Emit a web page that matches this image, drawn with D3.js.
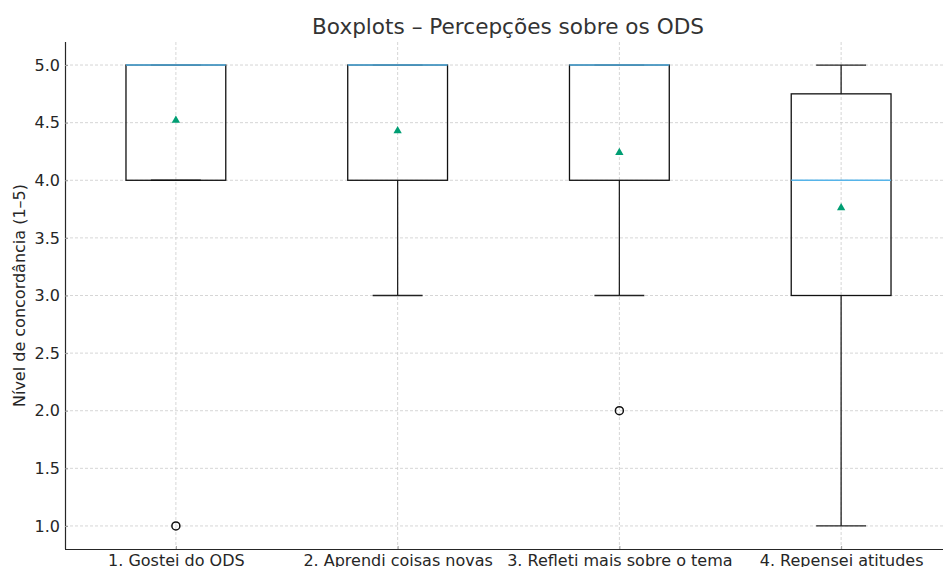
<!DOCTYPE html>
<html lang="pt">
<head>
<meta charset="UTF-8" />
<title>Boxplots – Percepções sobre os ODS</title>
<script src="https://d3js.org/d3.v7.min.js"></script>
<style>
  body { margin: 0; background: #fff; font-family: "DejaVu Sans", sans-serif; }
  svg { display: block; }
  .grid line { stroke: #cccccc; stroke-dasharray: 3,2; stroke-width: 0.8px; }
  .axis text { font-size: 16px; fill: #262626; font-family: "DejaVu Sans", sans-serif; }
  .axis path { stroke: #262626; stroke-width: 1.2px; }
  .axis line { stroke: #999; }
</style>
</head>
<body>
<svg width="943" height="567"></svg>
<script>
// dados
const categories = ["1. Gostei do ODS", "2. Aprendi coisas novas", "3. Refleti mais sobre o tema", "4. Repensei atitudes"];
const q1s      = [4, 4, 4, 3];
const medians  = [5, 5, 5, 4];
const q3s      = [5, 5, 5, 4.75];
const whiskLo  = [4, 3, 3, 1];
const whiskHi  = [5, 5, 5, 5];
const means    = [4.52, 4.43, 4.24, 3.76];
const outliers = [[1], [], [2], []];
const yTicks   = [1.0, 1.5, 2.0, 2.5, 3.0, 3.5, 4.0, 4.5, 5.0];

const svg = d3.select("svg");
const mLeft = 65, mRight = 952, mTop = 42, mBottom = 549;

const x = d3.scaleLinear().domain([0.5, 4.5]).range([mLeft, mRight]);
const y = d3.scaleLinear().domain([0.8, 5.2]).range([mBottom, mTop]);
const boxW = x(0.45) - x(0);
const capW = boxW / 2;

// grade
const grid = svg.append("g").attr("class", "grid");
grid.selectAll(".gy").data(yTicks).join("line")
  .attr("x1", mLeft).attr("x2", mRight)
  .attr("y1", d => y(d)).attr("y2", d => y(d));
grid.selectAll(".gx").data(categories).join("line")
  .attr("x1", (d, i) => x(i + 1)).attr("x2", (d, i) => x(i + 1))
  .attr("y1", mTop).attr("y2", mBottom);

// eixos
const yAxis = svg.append("g").attr("class", "axis")
  .attr("transform", `translate(${mLeft},0)`)
  .call(d3.axisLeft(y).tickValues(yTicks).tickFormat(d3.format(".1f")).tickSize(-3).tickPadding(5));
yAxis.select(".domain").attr("d", `M0.5,${mTop}V${mBottom}`);

const xAxis = svg.append("g").attr("class", "axis")
  .attr("transform", `translate(0,${mBottom})`)
  .call(d3.axisBottom(x).tickValues([1, 2, 3, 4]).tickFormat(d => categories[d - 1]).tickSize(-3).tickPadding(6));
xAxis.select(".domain").attr("d", `M${mLeft},0.5H${mRight}`);

// caixas
const data = categories.map((c, i) => ({
  i: i + 1, q1: q1s[i], med: medians[i], q3: q3s[i],
  lo: whiskLo[i], hi: whiskHi[i], mean: means[i], out: outliers[i]
}));

const g = svg.append("g").selectAll("g").data(data).join("g");

// bigodes
g.append("line")
  .attr("x1", d => x(d.i)).attr("x2", d => x(d.i))
  .attr("y1", d => y(d.q1)).attr("y2", d => y(d.lo))
  .attr("stroke", "#222").attr("stroke-width", 1.3);
g.append("line")
  .attr("x1", d => x(d.i)).attr("x2", d => x(d.i))
  .attr("y1", d => y(d.q3)).attr("y2", d => y(d.hi))
  .attr("stroke", "#222").attr("stroke-width", 1.3);
g.append("line")
  .attr("x1", d => x(d.i) - capW / 2).attr("x2", d => x(d.i) + capW / 2)
  .attr("y1", d => y(d.lo)).attr("y2", d => y(d.lo))
  .attr("stroke", "#222").attr("stroke-width", 1.3);
g.append("line")
  .attr("x1", d => x(d.i) - capW / 2).attr("x2", d => x(d.i) + capW / 2)
  .attr("y1", d => y(d.hi)).attr("y2", d => y(d.hi))
  .attr("stroke", "#222").attr("stroke-width", 1.3);

g.append("rect")
  .attr("x", d => x(d.i) - boxW / 2).attr("width", boxW)
  .attr("y", d => y(d.q3)).attr("height", d => y(d.q1) - y(d.q3))
  .attr("fill", "none").attr("stroke", "#111").attr("stroke-width", 1.3);

// mediana
g.append("line")
  .attr("x1", d => x(d.i) - boxW / 2).attr("x2", d => x(d.i) + boxW / 2)
  .attr("y1", d => y(d.med)).attr("y2", d => y(d.med))
  .attr("stroke", "#56B4E9").attr("stroke-width", 1.5);

// média
g.append("path")
  .attr("d", d3.symbol(d3.symbolTriangle, 30))
  .attr("transform", d => `translate(${x(d.i)},${y(d.mean)})`)
  .attr("fill", "#009E73");

// outliers
g.selectAll("circle").data(d => d.out.map(v => ({ i: d.i, v }))).join("circle")
  .attr("cx", d => x(d.i)).attr("cy", d => y(d.v)).attr("r", 4)
  .attr("fill", "none").attr("stroke", "#111").attr("stroke-width", 1.5);

// títulos
svg.append("text")
  .attr("x", 508).attr("y", 34).attr("text-anchor", "middle")
  .attr("font-size", 21.6).attr("fill", "#333")
  .text("Boxplots – Percepções sobre os ODS");

svg.append("text")
  .attr("transform", `translate(25,${(mTop + mBottom) / 2}) rotate(-90)`)
  .attr("text-anchor", "middle").attr("font-size", 16).attr("fill", "#262626")
  .text("Nível de concordância (1–5)");
</script>
</body>
</html>
